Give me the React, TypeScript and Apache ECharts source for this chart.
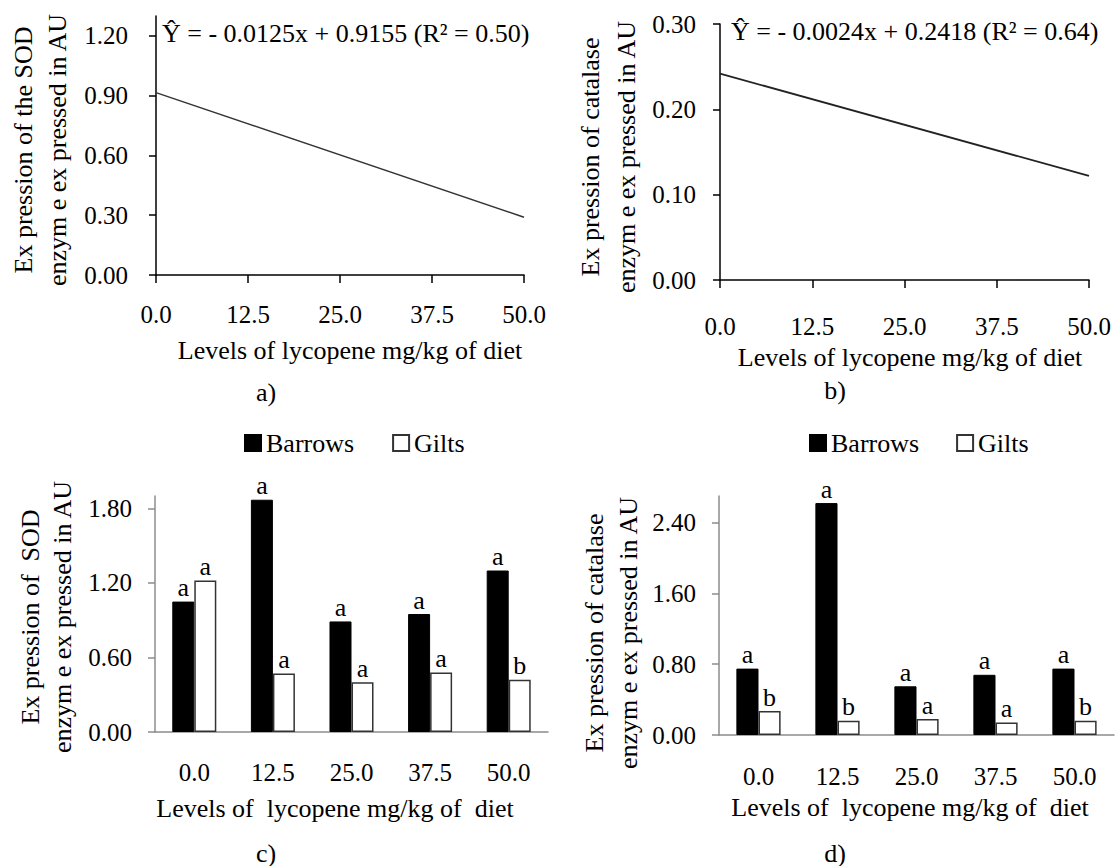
import React, { useEffect, useRef } from "react";
import * as echarts from "echarts";

// ---------- data ----------
const lycopeneLevels = ["0.0", "12.5", "25.0", "37.5", "50.0"];

// regression lines (x = level mg/kg, y = expression AU) read from panels a) and b)
const lineAX = [0, 50];
const lineAY = [0.9155, 0.29];
const lineBX = [0, 50];
const lineBY = [0.2418, 0.122];

const equationA = "Ŷ = - 0.0125x + 0.9155 (R² = 0.50)";
const equationB = "Ŷ = - 0.0024x + 0.2418 (R² = 0.64)";

// panel c) SOD
const sodBarrows = [1.05, 1.87, 0.89, 0.95, 1.3];
const sodGilts = [1.22, 0.47, 0.4, 0.48, 0.42];
const sodBarrowsLetters = ["a", "a", "a", "a", "a"];
const sodGiltsLetters = ["a", "a", "a", "a", "b"];

// panel d) catalase
const catBarrows = [0.75, 2.62, 0.55, 0.68, 0.75];
const catGilts = [0.27, 0.16, 0.18, 0.14, 0.16];
const catBarrowsLetters = ["a", "a", "a", "a", "a"];
const catGiltsLetters = ["b", "b", "a", "a", "b"];

const yTicksA = [0, 0.3, 0.6, 0.9, 1.2];
const yTicksB = [0, 0.1, 0.2, 0.3];
const yTicksC = [0, 0.6, 1.2, 1.8];
const yTicksD = [0, 0.8, 1.6, 2.4];

const FONT = '"Liberation Serif", "Times New Roman", serif';

export default function App() {
  const ref = useRef<HTMLDivElement>(null);

  useEffect(() => {
    if (!ref.current) return;
    const chart = echarts.init(ref.current, undefined, { renderer: "svg" });

    const tickFont = { fontFamily: FONT, fontSize: 25, color: "#000" };

    const valueX = (gridIndex: number, margin: number) => ({
      type: "value",
      gridIndex,
      min: 0,
      max: 50,
      interval: 12.5,
      axisLine: { show: true, onZero: false, lineStyle: { color: "#000", width: 1.5 } },
      axisTick: { show: true, length: 8, lineStyle: { color: "#000", width: 1.5 } },
      axisLabel: { ...tickFont, margin, formatter: (v: number) => v.toFixed(1) },
      splitLine: { show: false },
    });

    const valueY = (
      gridIndex: number,
      max: number,
      interval: number,
      ticks: number[],
      margin: number,
      color: string,
      digits: number
    ) => ({
      type: "value",
      gridIndex,
      min: 0,
      max,
      interval,
      axisLine: { show: true, lineStyle: { color, width: 1.5 } },
      axisTick: { show: true, length: 7, customValues: ticks, lineStyle: { color, width: 1.5 } },
      axisLabel: {
        ...tickFont,
        margin,
        customValues: ticks,
        formatter: (v: number) => v.toFixed(digits),
      },
      splitLine: { show: false },
    });

    const catX = (gridIndex: number, margin: number) => ({
      type: "category",
      gridIndex,
      data: lycopeneLevels,
      axisLine: { show: true, lineStyle: { color: "#8c8c8c", width: 1.5 } },
      axisTick: { show: false },
      axisLabel: { ...tickFont, margin },
    });

    const barLabel = (letters: string[]) => ({
      show: true,
      position: "top",
      distance: 1,
      fontFamily: FONT,
      fontSize: 26,
      color: "#000",
      formatter: (p: any) => letters[p.dataIndex],
    });

    const barrowsStyle = { color: "#000", borderColor: "#000", borderWidth: 1 };
    const giltsStyle = { color: "#fff", borderColor: "#333", borderWidth: 1.5 };

    const txt = (
      text: string,
      x: number,
      y: number,
      opts: { rotate?: boolean; align?: string; size?: number } = {}
    ) => ({
      type: "text",
      x,
      y,
      rotation: opts.rotate ? Math.PI / 2 : 0,
      style: {
        text,
        fill: "#000",
        fontFamily: FONT,
        fontSize: opts.size ?? 26,
        textAlign: opts.align ?? "center",
        textVerticalAlign: "middle",
        align: opts.align ?? "center",
        verticalAlign: "middle",
      },
    });

    const option: any = {
      animation: false,
      backgroundColor: "#fff",
      textStyle: { fontFamily: FONT },
      grid: [
        { left: 156, top: 16, width: 368, height: 259 },
        { left: 720, top: 24, width: 369, height: 256 },
        { left: 155, top: 496, width: 393, height: 236 },
        { left: 719, top: 496, width: 395, height: 239 },
      ],
      xAxis: [valueX(0, 27), valueX(1, 34), catX(2, 28), catX(3, 29)],
      yAxis: [
        valueY(0, 1.3, 0.3, yTicksA, 28, "#000", 2),
        valueY(1, 0.3, 0.1, yTicksB, 24, "#000", 2),
        valueY(2, 1.9, 0.6, yTicksC, 23, "#8c8c8c", 2),
        valueY(3, 2.7, 0.8, yTicksD, 23, "#8c8c8c", 2),
      ],
      legend: [
        {
          left: 239,
          top: 425,
          icon: "rect",
          itemWidth: 16,
          itemHeight: 16,
          itemGap: 38,
          textStyle: { fontFamily: FONT, fontSize: 26, color: "#000" },
          data: ["Barrows", "Gilts"],
        },
        {
          left: 804,
          top: 425,
          icon: "rect",
          itemWidth: 16,
          itemHeight: 16,
          itemGap: 37,
          textStyle: { fontFamily: FONT, fontSize: 26, color: "#000" },
          data: ["Barrows", "Gilts"],
        },
      ],
      series: [
        {
          type: "line",
          xAxisIndex: 0,
          yAxisIndex: 0,
          data: lineAX.map((x, i) => [x, lineAY[i]]),
          symbol: "none",
          lineStyle: { color: "#333", width: 1.5 },
        },
        {
          type: "line",
          xAxisIndex: 1,
          yAxisIndex: 1,
          data: lineBX.map((x, i) => [x, lineBY[i]]),
          symbol: "none",
          lineStyle: { color: "#222", width: 1.8 },
        },
        {
          name: "Barrows",
          type: "bar",
          xAxisIndex: 2,
          yAxisIndex: 2,
          data: sodBarrows,
          barGap: "0%",
          barCategoryGap: "44%",
          itemStyle: barrowsStyle,
          label: barLabel(sodBarrowsLetters),
        },
        {
          name: "Gilts",
          type: "bar",
          xAxisIndex: 2,
          yAxisIndex: 2,
          data: sodGilts,
          barGap: "0%",
          barCategoryGap: "44%",
          itemStyle: giltsStyle,
          label: barLabel(sodGiltsLetters),
        },
        {
          name: "Barrows",
          type: "bar",
          xAxisIndex: 3,
          yAxisIndex: 3,
          data: catBarrows,
          barGap: "0%",
          barCategoryGap: "44%",
          itemStyle: barrowsStyle,
          label: barLabel(catBarrowsLetters),
        },
        {
          name: "Gilts",
          type: "bar",
          xAxisIndex: 3,
          yAxisIndex: 3,
          data: catGilts,
          barGap: "0%",
          barCategoryGap: "44%",
          itemStyle: giltsStyle,
          label: barLabel(catGiltsLetters),
        },
      ],
      graphic: [
        txt(equationA, 162, 33, { align: "left" }),
        txt(equationB, 731, 31, { align: "left" }),
        // y-axis names
        txt("Ex pression of the SOD", 23, 150, { rotate: true }),
        txt("enzym e ex pressed in AU", 57, 150, { rotate: true }),
        txt("Ex pression of catalase", 590, 157, { rotate: true }),
        txt("enzym e ex pressed in AU", 626, 157, { rotate: true }),
        txt("Ex pression of  SOD", 30, 617, { rotate: true }),
        txt("enzym e ex pressed in AU", 62, 617, { rotate: true }),
        txt("Ex pression of catalase", 594, 633, { rotate: true }),
        txt("enzym e ex pressed in AU", 628, 633, { rotate: true }),
        // x-axis names
        txt("Levels of lycopene mg/kg of diet", 350, 350),
        txt("Levels of lycopene mg/kg of diet", 910, 357),
        txt("Levels of  lycopene mg/kg of  diet", 335, 808),
        txt("Levels of  lycopene mg/kg of  diet", 910, 807),
        // panel letters
        txt("a)", 266, 392),
        txt("b)", 835, 390),
        txt("c)", 266, 853),
        txt("d)", 835, 853),
      ],
    };

    chart.setOption(option);
    return () => chart.dispose();
  }, []);

  return (
    <div
      ref={ref}
      style={{ position: "absolute", left: 0, top: 0, width: 1117, height: 866, background: "#fff" }}
    />
  );
}
